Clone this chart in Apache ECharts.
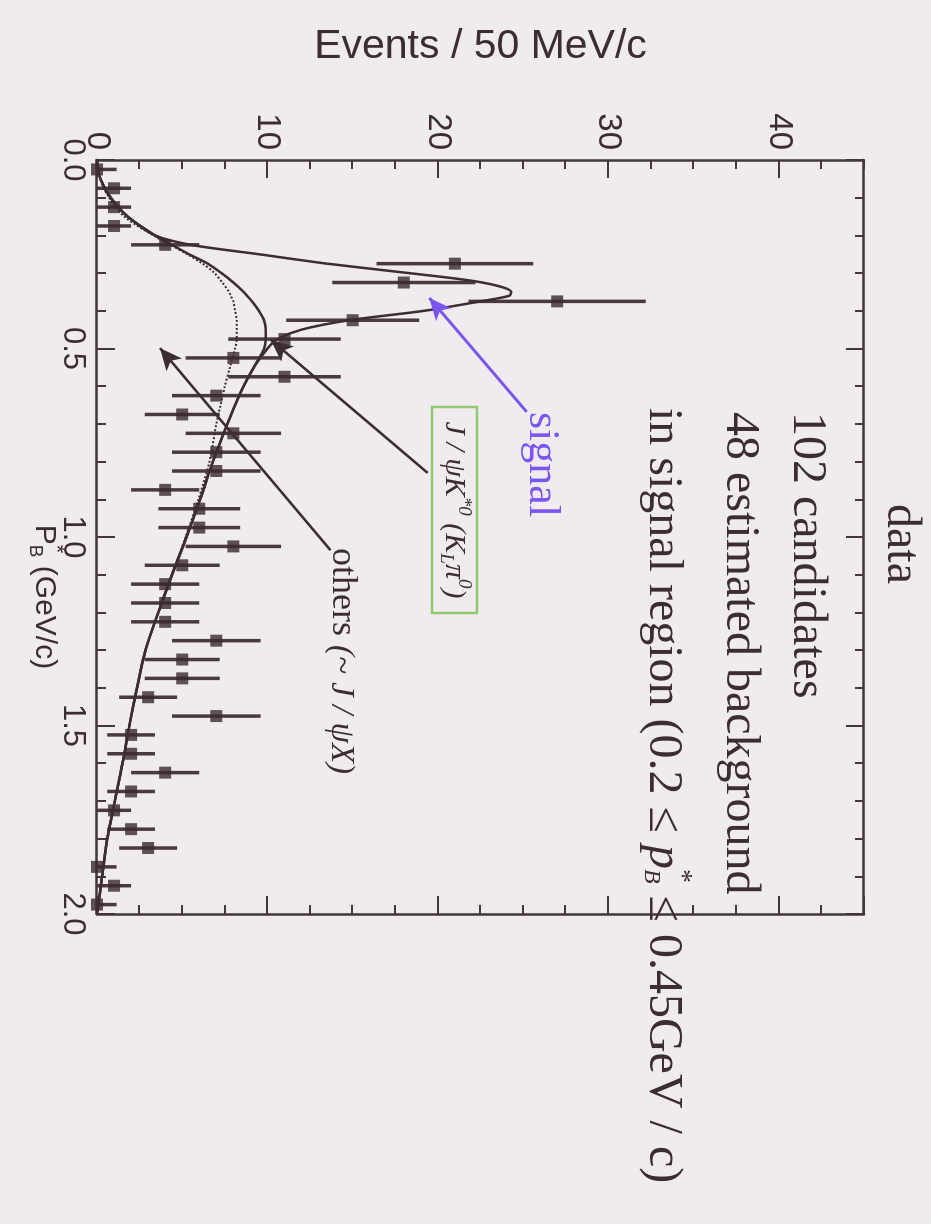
<!DOCTYPE html>
<html>
<head>
<meta charset="utf-8">
<script src="https://cdn.jsdelivr.net/npm/echarts@6/dist/echarts.min.js"></script>
<style>
html, body { margin: 0; padding: 0; background: #efebee; overflow: hidden; }
/* the plot is drawn upright and turned a quarter clockwise, like the scan */
#chart { position: absolute; left: 0; top: 0; width: 1224px; height: 931px;
         transform-origin: 0 0; transform: translate(931px, 0) rotate(90deg); }
</style>
</head>
<body>
<div id="chart"></div>
<script>
// P_B* bin centres (GeV/c), 50 MeV/c bins
const binCenters = [0.025, 0.075, 0.125, 0.175, 0.225, 0.275, 0.325, 0.375, 0.425, 0.475,
                    0.525, 0.575, 0.625, 0.675, 0.725, 0.775, 0.825, 0.875, 0.925, 0.975,
                    1.025, 1.075, 1.125, 1.175, 1.225, 1.275, 1.325, 1.375, 1.425, 1.475,
                    1.525, 1.575, 1.625, 1.675, 1.725, 1.775, 1.825, 1.875, 1.925, 1.975]
const counts = [0, 1, 1, 1, 4, 21, 18, 27, 15, 11,
                8, 11, 7, 5, 8, 7, 7, 4, 6, 6,
                8, 5, 4, 4, 4, 7, 5, 5, 3, 7,
                2, 2, 4, 2, 1, 2, 3, 0, 1, 0]
const countErrors = [1.15, 1, 1, 1, 2, 4.6, 4.2, 5.2, 3.9, 3.3,
                     2.8, 3.3, 2.6, 2.2, 2.8, 2.6, 2.6, 2, 2.4, 2.4,
                     2.8, 2.2, 2, 2, 2, 2.6, 2.2, 2.2, 1.7, 2.6,
                     1.4, 1.4, 2, 1.4, 1, 1.4, 1.7, 1.15, 1, 1.15]

// fit curves
const curveP    = [0, 0.05, 0.1, 0.15, 0.2, 0.225, 0.25, 0.275, 0.3, 0.325, 0.35, 0.36, 0.375, 0.4, 0.425,
                   0.45, 0.475, 0.5, 0.55, 0.6, 0.65, 0.7, 0.8, 0.9, 1.0, 1.1, 1.2, 1.3, 1.4, 1.5,
                   1.6, 1.7, 1.8, 1.9, 2.0]
const totalFit  = [0, 0.2, 0.8, 1.8, 3.4, 5.5, 9.5, 13.5, 18.3, 22.6, 24.3, 24.2, 22.5, 19.2, 14.8,
                   12.0, 10.6, 10.0, 9.2, 8.6, 8.1, 7.65, 6.8, 6.05, 5.25, 4.4, 3.6, 2.85, 2.35, 1.9,
                   1.5, 1.05, 0.6, 0.3, 0]
const bkgFit    = [0, 0.2, 0.8, 1.8, 3.4, 4.4, 5.4, 6.5, 7.3, 8.0, 8.6, 8.8, 9.1, 9.5, 9.8,
                   9.9, 9.9, 9.8, 9.2, 8.6, 8.1, 7.65, 6.8, 6.05, 5.25, 4.4, 3.6, 2.85, 2.35, 1.9,
                   1.5, 1.05, 0.6, 0.3, 0]
const othersFit = [0, 0.2, 0.7, 1.6, 3.3, 4.3, 5.3, 6.2, 6.9, 7.35, 7.75, 7.85, 8.0, 8.1, 8.2,
                   8.2, 8.2, 8.1, 7.8, 7.5, 7.25, 7.0, 6.6, 5.95, 5.2, 4.4, 3.6, 2.85, 2.35, 1.9,
                   1.5, 1.05, 0.6, 0.3, 0]

const pLabels = ['0.0', '0.5', '1.0', '1.5', '2.0']
const eventLabels = ['0', '10', '20', '30', '40']

// annotation arrows [from, to] in data coordinates
const signalArrow = [[0.668, 25.2], [0.366, 19.5]]
const jpsiArrow   = [[0.83, 19.4], [0.477, 10.2]]
const othersArrow = [[1.035, 13.7], [0.499, 3.7]]

const INK = '#3b2d33'
const FRAME = '#43363c'
const VIOLET = '#7b55f0'
const BOXGREEN = '#8fca6e'
const SANS = '"Liberation Sans", Arial, sans-serif'
const SERIF = '"Liberation Serif", "Times New Roman", serif'

const measureCtx = document.createElement('canvas').getContext('2d')

// lay out a run of text pieces (sub/superscripts) one after another
function textRun(x, y, parts, center, color) {
    let cur = 0, lastStart = 0, lastW = 0
    let placed = []
    parts.forEach(p => {
        let font = (p.it ? 'italic ' : '') + (p.size || 48) + 'px ' + (p.fam || SERIF)
        measureCtx.font = font
        let w = measureCtx.measureText(p.t).width
        if (p.stack) {
            placed.push({p, font, x: lastStart})
            lastW = Math.max(lastW, w)
            cur = lastStart + lastW
        } else {
            placed.push({p, font, x: cur})
            lastStart = cur
            lastW = w
            cur += w
        }
    })
    let x0 = center ? x - cur / 2 : x
    return placed.map(item => ({
        type: 'text',
        x: x0 + item.x,
        y: y + (item.p.dy || 0),
        z: 100,
        silent: true,
        style: {
            text: item.p.t, font: item.font, fill: color || INK,
            textAlign: 'left', align: 'left',
            textVerticalAlign: 'middle', verticalAlign: 'middle'
        }
    }))
}

function arrowLine(pts, color, width) {
    return [
        {coord: pts[0], symbol: 'none', lineStyle: {color: color, width: width, type: 'solid'}},
        {coord: pts[1], symbol: 'arrow', symbolSize: [15, 22], lineStyle: {color: color, width: width, type: 'solid'}}
    ]
}

let graphics = [].concat(
    textRun(544, 30, [{t: 'data'}], true),
    textRun(412, 124, [{t: '102 candidates'}]),
    textRun(412, 191, [{t: '48 estimated background'}]),
    textRun(408, 268, [
        {t: 'in signal region (0.2 ≤ '},
        {t: 'p', it: true},
        {t: 'B', size: 24, it: true, dy: 12},
        {t: '*', size: 28, dy: -18, stack: true},
        {t: ' ≤ 0.45GeV / c)'}
    ]),
    textRun(412, 389, [{t: 'signal', size: 44}], false, VIOLET),
    textRun(510, 477, [
        {t: 'J / ψK', size: 30, it: true},
        {t: '*0', size: 19, it: true, dy: -10},
        {t: ' (K', size: 30, it: true},
        {t: 'L', size: 19, it: true, dy: 8},
        {t: 'π', size: 30, it: true},
        {t: '0', size: 19, it: true, dy: -10},
        {t: ')', size: 30, it: true}
    ], true),
    textRun(548, 589, [
        {t: 'others ', size: 36},
        {t: '(~ J / ψX)', size: 33, it: true, dy: 1}
    ]),
    textRun(597, 887, [
        {t: 'P', size: 30, fam: SANS},
        {t: 'B', size: 19, fam: SANS, dy: 9},
        {t: '*', size: 22, fam: SANS, dy: -12, stack: true},
        {t: ' (GeV/c)', size: 30, fam: SANS}
    ], true)
)
graphics.push({
    type: 'rect', z: 100, silent: true,
    shape: {x: 407, y: 454, width: 206, height: 45},
    style: {fill: 'none', stroke: BOXGREEN, lineWidth: 2.5}
})

function pAxis(gridIndex, position, major) {
    return {
        gridIndex: gridIndex, type: 'value', position: position,
        min: 0, max: 2, interval: major ? 0.5 : 0.1,
        axisLine: {show: major, onZero: false, lineStyle: {color: FRAME, width: 2.5}},
        axisTick: {show: true, inside: true, length: major ? 18 : 9, lineStyle: {color: FRAME, width: 2}},
        axisLabel: {
            show: major && position === 'bottom', margin: 9,
            fontSize: 31, fontFamily: SANS, color: INK,
            formatter: v => pLabels[Math.round(v / 0.5)] || ''
        },
        splitLine: {show: false}
    }
}

function eventAxis(gridIndex, position, major) {
    let axis = {
        gridIndex: gridIndex, type: 'value', position: position,
        min: 0, max: 45, interval: major ? 10 : 2.5,
        axisLine: {show: major, onZero: false, lineStyle: {color: FRAME, width: 2.5}},
        axisTick: {show: true, inside: true, length: major ? 18 : 9, lineStyle: {color: FRAME, width: 2}},
        axisLabel: {
            show: major && position === 'left', margin: 10, showMaxLabel: false,
            fontSize: 33, fontFamily: SANS, color: INK,
            formatter: v => eventLabels[Math.round(v / 10)] || ''
        },
        splitLine: {show: false}
    }
    if (major && position === 'left') {
        axis.name = 'Events / 50 MeV/c'
        axis.nameLocation = 'middle'
        axis.nameRotate = 90
        axis.nameGap = 93
        axis.nameTextStyle = {fontSize: 41, fontFamily: SANS, color: INK}
    }
    return axis
}

let chart = echarts.init(document.getElementById('chart'))
chart.setOption({
    animation: false,
    backgroundColor: '#efebee',
    grid: [
        {left: 160, right: 310, top: 67, bottom: 97},
        {left: 160, right: 310, top: 67, bottom: 97}
    ],
    xAxis: [pAxis(0, 'bottom', true), pAxis(0, 'top', true), pAxis(1, 'bottom', false), pAxis(1, 'top', false)],
    yAxis: [eventAxis(0, 'left', true), eventAxis(0, 'right', true), eventAxis(1, 'left', false), eventAxis(1, 'right', false)],
    graphic: graphics,
    series: [
        {
            name: 'errors', type: 'custom', xAxisIndex: 0, yAxisIndex: 0, silent: true,
            data: binCenters.map((p, i) => [p, Math.max(0, counts[i] - countErrors[i]), counts[i] + countErrors[i]]),
            renderItem: (params, api) => {
                let a = api.coord([api.value(0), api.value(1)])
                let b = api.coord([api.value(0), api.value(2)])
                return {
                    type: 'line',
                    shape: {x1: a[0], y1: a[1], x2: b[0], y2: b[1]},
                    style: {stroke: '#4a3a40', lineWidth: 3.5}
                }
            }
        },
        {
            name: 'others', type: 'line', xAxisIndex: 0, yAxisIndex: 0, silent: true,
            data: curveP.map((p, i) => [p, othersFit[i]]),
            showSymbol: false, smooth: 0.3,
            lineStyle: {color: INK, width: 2, type: 'dotted'}
        },
        {
            name: 'background', type: 'line', xAxisIndex: 0, yAxisIndex: 0, silent: true,
            data: curveP.map((p, i) => [p, bkgFit[i]]),
            showSymbol: false, smooth: 0.3,
            lineStyle: {color: INK, width: 2.5}
        },
        {
            name: 'total', type: 'line', xAxisIndex: 0, yAxisIndex: 0, silent: true,
            data: curveP.map((p, i) => [p, totalFit[i]]),
            showSymbol: false, smooth: 0.3,
            lineStyle: {color: INK, width: 2.5}
        },
        {
            name: 'data', type: 'scatter', xAxisIndex: 0, yAxisIndex: 0, silent: true,
            data: binCenters.map((p, i) => [p, counts[i]]),
            symbol: 'rect', symbolSize: 12,
            itemStyle: {color: '#3a2a30'},
            markLine: {
                silent: true,
                label: {show: false},
                data: [
                    arrowLine(signalArrow, VIOLET, 3),
                    arrowLine(jpsiArrow, INK, 2.5),
                    arrowLine(othersArrow, INK, 2.5)
                ]
            }
        }
    ]
})
</script>
</body>
</html>
